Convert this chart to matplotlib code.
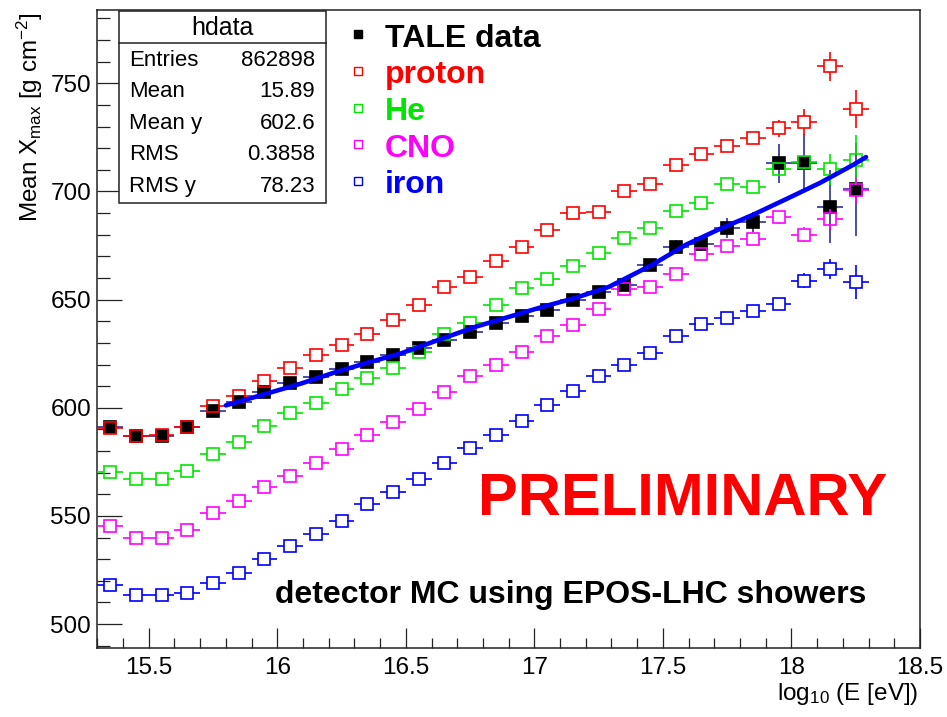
import numpy as np
import matplotlib
matplotlib.use("Agg")
import matplotlib.pyplot as plt
from matplotlib.lines import Line2D
from matplotlib.patches import Rectangle

plt.rcParams["font.family"] = ["Liberation Sans", "DejaVu Sans"]
plt.rcParams["mathtext.fontset"] = "custom"
plt.rcParams["mathtext.rm"] = "Liberation Sans"
plt.rcParams["mathtext.it"] = "Liberation Sans:italic"
plt.rcParams["mathtext.bf"] = "Liberation Sans:bold"
plt.rcParams["mathtext.default"] = "regular"

# bin centres in log10(E/eV)
energy = [15.35, 15.45, 15.55, 15.65, 15.75, 15.85, 15.95, 16.05, 16.15, 16.25,
          16.35, 16.45, 16.55, 16.65, 16.75, 16.85, 16.95, 17.05, 17.15, 17.25,
          17.35, 17.45, 17.55, 17.65, 17.75, 17.85, 17.95, 18.05, 18.15, 18.25]

tale = [591.0, 586.9, 586.9, 591.1, 598.5, 602.9, 607.3, 611.6, 614.0, 618.0,
        621.1, 624.5, 627.6, 631.4, 635.0, 639.3, 642.4, 645.0, 649.6, 653.6,
        656.8, 665.8, 674.3, 675.8, 683.2, 686.0, 713.1, 713.3, 693.0, 701.0]
tale_err = [0.5, 0.4, 0.4, 0.4, 0.4, 0.4, 0.4, 0.4, 0.5, 0.5,
            0.6, 0.7, 0.8, 0.9, 1.0, 1.1, 1.2, 1.4, 1.6, 1.9,
            2.3, 2.8, 3.3, 3.4, 4.6, 4.6, 9.0, 13.5, 17.0, 21.5]

proton = [590.5, 586.9, 587.5, 591.0, 600.6, 605.4, 612.6, 618.6, 624.2, 629.1,
          633.9, 640.7, 647.7, 656.0, 660.5, 667.9, 674.4, 682.3, 690.0, 690.3,
          700.0, 703.5, 712.1, 717.5, 721.2, 724.9, 729.2, 732.3, 757.9, 738.1]
proton_err = [0.3, 0.3, 0.3, 0.3, 0.3, 0.3, 0.3, 0.3, 0.3, 0.3,
              0.3, 0.3, 0.3, 0.4, 0.4, 0.4, 0.5, 0.5, 0.6, 0.7,
              0.8, 0.9, 1.0, 1.2, 1.5, 2.0, 4.0, 6.0, 6.8, 8.8]

helium = [570.3, 566.9, 566.9, 570.7, 578.7, 584.4, 591.5, 597.5, 602.3, 608.8,
          613.9, 618.6, 626.0, 634.0, 639.0, 647.7, 655.3, 659.6, 665.5, 671.6,
          678.7, 683.0, 690.9, 694.6, 703.6, 701.9, 710.3, 713.5, 710.3, 714.6]
helium_err = [0.3, 0.3, 0.3, 0.3, 0.3, 0.3, 0.3, 0.3, 0.3, 0.3,
              0.3, 0.3, 0.3, 0.4, 0.4, 0.4, 0.5, 0.5, 0.6, 0.7,
              0.8, 0.9, 1.0, 1.2, 1.5, 2.0, 3.0, 3.0, 7.2, 11.5]

cno = [545.3, 539.9, 539.9, 543.3, 551.2, 556.7, 563.3, 568.3, 574.4, 581.0,
       587.2, 593.4, 599.5, 607.5, 614.6, 619.9, 625.7, 633.4, 638.4, 645.5,
       655.0, 655.8, 661.8, 671.0, 674.6, 677.8, 688.0, 680.1, 687.3, 700.9]
cno_err = [0.3, 0.3, 0.3, 0.3, 0.3, 0.3, 0.3, 0.3, 0.3, 0.3,
           0.3, 0.3, 0.3, 0.4, 0.4, 0.4, 0.5, 0.5, 0.6, 0.7,
           0.8, 0.9, 1.0, 1.2, 1.5, 2.0, 3.0, 3.5, 4.8, 6.0]

iron = [517.9, 513.6, 513.3, 514.4, 519.1, 523.8, 529.9, 536.1, 541.6, 547.5,
        555.5, 561.0, 567.2, 574.4, 581.5, 587.2, 594.1, 601.1, 607.9, 614.5,
        620.0, 625.4, 633.4, 638.5, 641.7, 644.8, 647.9, 658.8, 664.2, 658.1]
iron_err = [0.3, 0.3, 0.3, 0.3, 0.3, 0.3, 0.3, 0.3, 0.3, 0.3,
            0.3, 0.3, 0.3, 0.4, 0.4, 0.4, 0.5, 0.5, 0.6, 0.7,
            0.8, 0.9, 1.0, 1.2, 1.5, 2.0, 2.0, 3.4, 4.8, 7.7]

# fitted line through the data
fit_x = [15.80, 15.96, 16.09, 16.22, 16.35, 16.48, 16.64, 16.77, 16.90, 17.03,
         17.16, 17.29, 17.46, 17.59, 17.72, 17.85, 17.98, 18.11, 18.24, 18.29]
fit_y = [601.1, 606.6, 611.1, 616.2, 620.8, 625.1, 631.9, 637.4, 642.0, 646.6,
         650.8, 655.9, 666.2, 675.4, 682.6, 689.2, 696.5, 703.9, 712.3, 715.9]

stats_names = ["Entries", "Mean", "Mean y", "RMS", "RMS y"]
stats_values = ["862898", "15.89", "602.6", "0.3858", "78.23"]

legend_labels = ["TALE data", "proton", "He", "CNO", "iron"]
legend_colors = ["black", "#ff0000", "#00e600", "#ff00ff", "#0000ff"]

W, H = 947, 717


def fx(px):
    return px / W


def fy(py):
    return 1 - py / H


fig = plt.figure(figsize=(W / 100, H / 100), dpi=100)
ax = fig.add_axes([fx(97.3), fy(648.3), (920 - 97.3) / W, (648.3 - 10) / H])

HALF_BIN = 0.05
GAP_X = 0.023   # marker half-width in x units
GAP_Y = 2.8     # marker half-height in y units


def draw_series(x, y, yerr, color, bar_color, filled, z, ms=8.5):
    x = np.asarray(x)
    y = np.asarray(y)
    yerr = np.asarray(yerr)
    kw = dict(color=bar_color, lw=1.2, zorder=z)
    ax.hlines(y, x - HALF_BIN, x - GAP_X, **kw)
    ax.hlines(y, x + GAP_X, x + HALF_BIN, **kw)
    m = yerr > GAP_Y
    ax.vlines(x[m], y[m] + GAP_Y, y[m] + yerr[m], **kw)
    ax.vlines(x[m], y[m] - yerr[m], y[m] - GAP_Y, **kw)
    ax.plot(x, y, "s", ms=ms, mec=color, mew=1.2,
            mfc=color if filled else "none", zorder=z + 0.5)


draw_series(energy, tale, tale_err, "black", "#2f2f9a", True, 2, ms=8)
draw_series(energy, proton, proton_err, legend_colors[1], legend_colors[1], False, 3)
draw_series(energy, helium, helium_err, legend_colors[2], legend_colors[2], False, 4)
draw_series(energy, cno, cno_err, legend_colors[3], legend_colors[3], False, 5)
draw_series(energy, iron, iron_err, legend_colors[4], legend_colors[4], False, 6)

ax.plot(fit_x, fit_y, color="#0000ff", lw=3.3, zorder=10, solid_capstyle="round")

ax.set_xlim(15.3, 18.5)
ax.set_ylim(488.8, 783.9)
ax.set_xticks([15.5, 16, 16.5, 17, 17.5, 18, 18.5])
ax.set_xticklabels(["15.5", "16", "16.5", "17", "17.5", "18", "18.5"])
ax.set_xticks(np.arange(15.3, 18.51, 0.1), minor=True)
ax.set_yticks([500, 550, 600, 650, 700, 750])
ax.set_yticks(np.arange(490, 781, 10), minor=True)

ax.tick_params(axis="both", which="both", direction="in", top=False, right=False,
               width=0.9, color="#222222", labelsize=17.5)
ax.tick_params(axis="y", which="major", length=18, pad=4.5)
ax.tick_params(axis="y", which="minor", length=9.4)
ax.tick_params(axis="x", which="major", length=14.4, pad=6)
ax.tick_params(axis="x", which="minor", length=7.2)
for sp in ax.spines.values():
    sp.set_linewidth(1.1)
    sp.set_color("#222222")

fig.text(fx(30), fy(12), "Mean X$_{max}$ [g cm$^{-2}$]", rotation=90,
         ha="center", va="top", fontsize=17.5)
fig.text(fx(918), fy(700), "log$_{10}$ (E [eV])", ha="right", va="baseline",
         fontsize=17.5)

# stats box
fig.add_artist(Rectangle((fx(119), fy(203)), (326 - 119) / W, (203 - 11) / H,
                         transform=fig.transFigure, facecolor="white",
                         edgecolor="#222222", lw=1.1, zorder=20))
fig.add_artist(Line2D([fx(119), fx(326)], [fy(43), fy(43)],
                      transform=fig.transFigure, color="#222222", lw=1.1, zorder=21))
fig.text(fx(222.5), fy(28), "hdata", ha="center", va="center", fontsize=18, zorder=22)
row_y = [60, 91.7, 123.3, 155, 186.7]
for name, val, ry in zip(stats_names, stats_values, row_y):
    fig.text(fx(129), fy(ry), name, ha="left", va="center", fontsize=16, zorder=22)
    fig.text(fx(315), fy(ry), val, ha="right", va="center", fontsize=16, zorder=22)

# legend
base_y = [46.7, 83.3, 120.0, 156.6, 193.2]
for lab, col, by in zip(legend_labels, legend_colors, base_y):
    filled = lab == "TALE data"
    fig.add_artist(Line2D([fx(358)], [fy(by - 12.5)], transform=fig.transFigure,
                          marker="s", ms=6, mew=1.0, mec=col,
                          mfc=col if filled else "none", ls="none", zorder=22))
    fig.text(fx(385), fy(by), lab, color=col, fontsize=23, fontweight="bold",
             ha="left", va="baseline", zorder=22)

fig.text(fx(683), fy(515), "PRELIMINARY", color="#ff0000", fontsize=43,
         fontweight="bold", ha="center", va="baseline")
fig.text(fx(275), fy(603.3), "detector MC using EPOS-LHC showers", color="black",
         fontsize=23, fontweight="bold", ha="left", va="baseline")

fig.savefig("out.png", dpi=100)
